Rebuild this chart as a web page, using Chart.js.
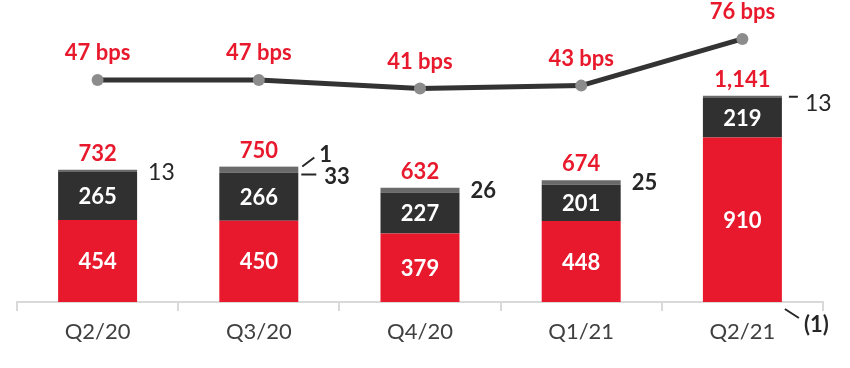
<!DOCTYPE html>
<html>
<head>
<meta charset="utf-8">
<script src="https://cdn.jsdelivr.net/npm/chart.js@4.4.0/dist/chart.umd.min.js"></script>
<style>
html, body { margin: 0; padding: 0; background: #fff; }
</style>
</head>
<body>
<canvas id="barChart" width="850" height="368"></canvas>
<script>
var quarters = ['Q2/20', 'Q3/20', 'Q4/20', 'Q1/21', 'Q2/21'];
var redPart = [454, 450, 379, 448, 910];
var darkPart = [265, 266, 227, 201, 219];
var greyPart = [13, 33, 26, 25, 13];
var otherPart = [0, 1, 0, 0, -1];
var totals = [732, 750, 632, 674, 1141];
var bps = [47, 47, 41, 43, 76];

var RED = '#e8192c';
var INK = '#262626';
var BOLD = 'bold 22px Lato';
var PLAIN = '23px Lato';

// labels on the segments, totals, bps and the small side values
var labelPlugin = {
    id: 'labels',
    afterDatasetsDraw: function (chart) {
        var ctx = chart.ctx;
        var line = chart.getDatasetMeta(0).data;
        var red = chart.getDatasetMeta(1).data;
        var dark = chart.getDatasetMeta(2).data;
        var grey = chart.getDatasetMeta(3).data;
        var other = chart.getDatasetMeta(4).data;
        ctx.save();
        ctx.textBaseline = 'middle';
        ctx.lineWidth = 2;
        ctx.strokeStyle = INK;
        for (var i = 0; i < quarters.length; i++) {
            ctx.font = BOLD;
            ctx.textAlign = 'center';
            ctx.fillStyle = '#fff';
            ctx.fillText(redPart[i], red[i].x, (red[i].y + red[i].base) / 2 + 1);
            ctx.fillText(darkPart[i], dark[i].x, (dark[i].y + dark[i].base) / 2 + 1);

            var top = grey[i].y;
            if (otherPart[i] > 0) top = other[i].y;
            ctx.fillStyle = RED;
            ctx.fillText(totals[i].toLocaleString('en-US'), red[i].x, top - 16);
            ctx.fillText(bps[i] + ' bps', line[i].x, line[i].y - 27);

            var right = red[i].x + red[i].width / 2;
            ctx.textAlign = 'left';
            ctx.fillStyle = INK;
            if (otherPart[i] > 0) {
                ctx.beginPath();
                ctx.moveTo(right + 4, top);
                ctx.lineTo(right + 16, top - 9);
                ctx.moveTo(right + 3, top + 8);
                ctx.lineTo(right + 18, top + 8);
                ctx.stroke();
                ctx.fillText(otherPart[i], right + 21, top - 12);
                ctx.fillText(greyPart[i], right + 26, top + 10);
            } else if (otherPart[i] < 0) {
                var base = red[i].base;
                ctx.beginPath();
                ctx.moveTo(right + 7, top + 1);
                ctx.lineTo(right + 16, top + 1);
                ctx.moveTo(right + 3, base + 7);
                ctx.lineTo(right + 17, base + 16);
                ctx.stroke();
                ctx.fillText('(' + Math.abs(otherPart[i]) + ')', right + 22, base + 23);
                ctx.font = PLAIN;
                ctx.fillText(greyPart[i], right + 23, top + 8);
            } else {
                if (i === 0) ctx.font = PLAIN;
                ctx.fillText(greyPart[i], right + 11, top + 3);
            }
        }
        ctx.restore();
    }
};

var ctxB = document.getElementById('barChart').getContext('2d');
var myBarChart = new Chart(ctxB, {
    type: 'bar',
    data: {
        labels: quarters,
        datasets: [{
            type: 'line',
            label: 'bps',
            data: bps,
            yAxisID: 'y1',
            borderColor: '#333333',
            borderWidth: 5,
            pointRadius: 6,
            pointBackgroundColor: '#8c8c8c',
            pointBorderWidth: 0,
            tension: 0,
            order: 0
        }, {
            label: 'red',
            data: redPart,
            backgroundColor: RED,
            stack: 'a',
            order: 1
        }, {
            label: 'dark',
            data: darkPart,
            backgroundColor: '#303030',
            stack: 'a',
            order: 1
        }, {
            label: 'grey',
            data: greyPart,
            backgroundColor: '#6a6a6a',
            stack: 'a',
            order: 1
        }, {
            label: 'other',
            data: otherPart,
            backgroundColor: '#a6a6a6',
            stack: 'a',
            order: 1
        }]
    },
    options: {
        responsive: false,
        animation: false,
        barPercentage: 0.49,
        categoryPercentage: 1,
        layout: { padding: { left: 17, right: 27, top: 20, bottom: 0 } },
        plugins: {
            legend: { display: false },
            tooltip: { enabled: false }
        },
        scales: {
            x: {
                stacked: true,
                afterFit: function (scale) { scale.height = 66; },
                grid: {
                    drawOnChartArea: false,
                    color: '#d9d9d9',
                    lineWidth: 2,
                    tickLength: 9
                },
                border: { color: '#d9d9d9', width: 2 },
                ticks: {
                    color: '#404040',
                    padding: 8,
                    font: { family: 'Lato', size: 22 }
                }
            },
            y: {
                display: false,
                stacked: true,
                min: 0,
                max: 1561
            },
            y1: {
                display: false,
                min: -110,
                max: 89.4
            }
        }
    },
    plugins: [labelPlugin]
});
</script>
</body>
</html>
